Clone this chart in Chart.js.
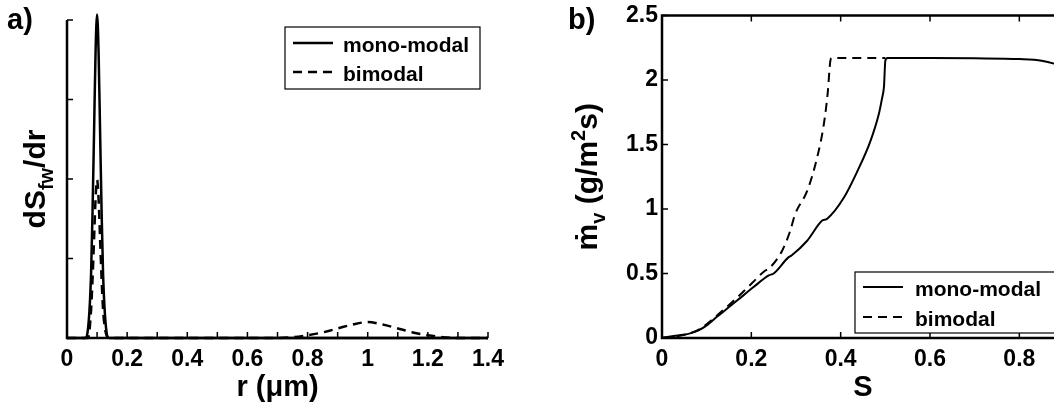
<!DOCTYPE html>
<html>
<head>
<meta charset="utf-8">
<script src="https://cdn.jsdelivr.net/npm/chart.js@4.4.0/dist/chart.umd.min.js"></script>
<style>
  html, body { margin: 0; padding: 0; background: #fff; overflow: hidden; width: 1054px; height: 403px; }
  #wrapA { position: absolute; left: 0; top: 0; width: 540px; height: 403px; }
  #wrapB { position: absolute; left: 540px; top: 0; width: 580px; height: 403px; }
</style>
</head>
<body>
<div id="wrapA"><canvas id="chartA" width="540" height="403"></canvas></div>
<div id="wrapB"><canvas id="chartB" width="580" height="403"></canvas></div>
<script>
// ---- данные панели a) : распределение dS_fw/dr по r (мкм)
const seriesNames = ['mono-modal', 'bimodal'];

const rMono = [0, 0.06, 0.07, 0.08, 0.085, 0.09, 0.095, 0.1, 0.105, 0.11, 0.115, 0.12, 0.13, 0.14, 0.5, 1.0, 1.4];
const dsMono = [0, 0, 0.12, 0.8, 1.6, 2.6, 3.6, 4.07, 3.6, 2.6, 1.6, 0.8, 0.12, 0, 0, 0, 0];

const rBim = [0, 0.07, 0.08, 0.085, 0.09, 0.095, 0.1, 0.105, 0.11, 0.115, 0.12, 0.13, 0.14, 0.5, 0.7, 0.75, 0.8, 0.85, 0.9, 0.95, 1.0, 1.05, 1.1, 1.15, 1.2, 1.25, 1.3, 1.4];
const dsBim = [0, 0, 0.35, 0.75, 1.25, 1.75, 1.99, 1.75, 1.25, 0.75, 0.35, 0.05, 0, 0, 0, 0.01, 0.035, 0.07, 0.12, 0.17, 0.2, 0.17, 0.12, 0.07, 0.035, 0.01, 0, 0];

// ---- данные панели b) : скорость испарения m_v (г/м2с) от S
const sMono = [0, 0.026, 0.048, 0.063, 0.082, 0.101, 0.123, 0.146, 0.168, 0.205, 0.239, 0.25, 0.283, 0.29, 0.325, 0.358, 0.37, 0.407, 0.437, 0.466, 0.485, 0.4925, 0.497, 0.5, 0.505, 0.6, 0.7, 0.8, 0.85, 0.88, 0.9];
const mMono = [0, 0.015, 0.025, 0.036, 0.06, 0.1, 0.164, 0.228, 0.29, 0.395, 0.485, 0.5, 0.625, 0.64, 0.754, 0.908, 0.925, 1.087, 1.29, 1.52, 1.73, 1.856, 1.95, 2.15, 2.17, 2.17, 2.168, 2.162, 2.15, 2.125, 2.1];

const sBim = [0, 0.05, 0.085, 0.125, 0.17, 0.2, 0.23, 0.24, 0.269, 0.287, 0.298, 0.325, 0.347, 0.362, 0.371, 0.377, 0.38, 0.45, 0.5];
const mBim = [0, 0.025, 0.07, 0.18, 0.32, 0.42, 0.52, 0.54, 0.677, 0.83, 0.96, 1.14, 1.395, 1.65, 1.9, 2.15, 2.17, 2.17, 2.17];

// шаги засечек
const rTicksStep = 0.1;
const sTicksStep = 0.2;
const mTicksStep = 0.5;

const FONT = "'Liberation Sans', Arial, Helvetica, sans-serif";
Chart.defaults.font.family = FONT;
Chart.defaults.font.weight = 'bold';
Chart.defaults.color = '#000';

function pts(xs, ys) {
	return xs.map((x, i) => ({x: x, y: ys[i]}));
}

// текст с индексами: parts = [{t, s, dy}]
function drawRich(ctx, parts, x, y) {
	let w = 0;
	parts.forEach(p => {
		ctx.font = 'bold ' + p.s + 'px ' + FONT;
		p.w = ctx.measureText(p.t).width;
		w += p.w;
	});
	let cx = x - w / 2;
	ctx.textBaseline = 'alphabetic';
	ctx.textAlign = 'left';
	parts.forEach(p => {
		ctx.font = 'bold ' + p.s + 'px ' + FONT;
		ctx.fillText(p.t, cx, y + (p.dy || 0));
		cx += p.w;
	});
}

// оси, засечки внутрь, подписи осей, легенда
const framePlugin = {
	id: 'frame',
	afterDatasetsDraw(chart, args, o) {
		const ctx = chart.ctx;
		const a = chart.chartArea;
		const xs = chart.scales.x, ys = chart.scales.y;
		ctx.save();
		ctx.strokeStyle = '#000';
		ctx.fillStyle = '#000';
		ctx.lineWidth = 2.5;
		ctx.beginPath();
		if (o.box) {
			ctx.rect(a.left, a.top, a.right - a.left, a.bottom - a.top);
		} else {
			ctx.moveTo(a.left, a.top);
			ctx.lineTo(a.left, a.bottom);
			ctx.lineTo(a.right, a.bottom);
		}
		ctx.stroke();

		// засечки
		ctx.lineWidth = 1.5;
		const tl = 6;
		ctx.beginPath();
		xs.ticks.forEach(t => {
			const px = xs.getPixelForValue(t.value);
			if (Math.abs(px - a.left) < 1) return;
			ctx.moveTo(px, a.bottom);
			ctx.lineTo(px, a.bottom - tl);
			if (o.box) {
				ctx.moveTo(px, a.top);
				ctx.lineTo(px, a.top + tl);
			}
		});
		ys.ticks.forEach(t => {
			const py = ys.getPixelForValue(t.value);
			if (Math.abs(py - a.bottom) < 1) return;
			ctx.moveTo(a.left, py);
			ctx.lineTo(a.left + tl, py);
		});
		ctx.stroke();

		// буква панели
		ctx.font = 'bold 29px ' + FONT;
		ctx.textAlign = 'left';
		ctx.textBaseline = 'alphabetic';
		ctx.fillText(o.letter, o.letterX, 29);

		// подпись оси x
		drawRich(ctx, o.xTitle, (a.left + a.right) / 2, 396);

		// подпись оси y (повернута)
		ctx.save();
		ctx.translate(o.yTitleX, (a.top + a.bottom) / 2);
		ctx.rotate(-Math.PI / 2);
		drawRich(ctx, o.yTitle, 0, 0);
		ctx.restore();

		// легенда
		const L = o.legend;
		const bx = a.right - L.right - L.w;
		const by = L.bottom != null ? a.bottom - L.bottom - L.h : a.top + L.top;
		ctx.fillStyle = '#fff';
		ctx.fillRect(bx, by, L.w, L.h);
		ctx.lineWidth = 1.2;
		ctx.strokeStyle = '#000';
		ctx.strokeRect(bx, by, L.w, L.h);
		ctx.fillStyle = '#000';
		chart.data.datasets.forEach((ds, i) => {
			const ly = by + L.row0 + i * L.rowGap;
			ctx.beginPath();
			ctx.lineWidth = ds.borderWidth;
			ctx.setLineDash(ds.borderDash || []);
			ctx.moveTo(bx + 8, ly);
			ctx.lineTo(bx + 48, ly);
			ctx.stroke();
			ctx.setLineDash([]);
			ctx.font = 'bold 21px ' + FONT;
			ctx.textAlign = 'left';
			ctx.textBaseline = 'alphabetic';
			ctx.fillText(ds.label, bx + L.textX, ly + 9);
		});
		ctx.restore();
	}
};

function fmt(v) {
	return String(Math.round(v * 10) / 10);
}

// ---- панель a
new Chart(document.getElementById('chartA'), {
	type: 'line',
	data: {
		datasets: [{
			label: seriesNames[0],
			data: pts(rMono, dsMono),
			borderColor: '#000',
			borderWidth: 2.5,
			pointRadius: 0,
			cubicInterpolationMode: 'monotone',
			clip: false
		}, {
			label: seriesNames[1],
			data: pts(rBim, dsBim),
			borderColor: '#000',
			borderWidth: 2.5,
			borderDash: [9, 6],
			pointRadius: 0,
			cubicInterpolationMode: 'monotone',
			clip: false
		}]
	},
	options: {
		responsive: false,
		animation: false,
		devicePixelRatio: 1,
		layout: {padding: {left: 0, top: 20, right: 52, bottom: 0}},
		plugins: {
			legend: {display: false},
			tooltip: {enabled: false},
			frame: {
				box: false,
				letter: 'a)',
				letterX: 7,
				xTitle: [{t: 'r (\u03bcm)', s: 29}],
				yTitle: [{t: 'dS', s: 30}, {t: 'fw', s: 20, dy: 8}, {t: '/dr', s: 30}],
				yTitleX: 45,
				legend: {right: 8, top: 7, w: 195, h: 62, row0: 16, rowGap: 29, textX: 58}
			}
		},
		scales: {
			x: {
				type: 'linear',
				min: 0, max: 1.4,
				grid: {display: false, drawTicks: false},
				border: {display: false},
				ticks: {
					stepSize: rTicksStep,
					autoSkip: false,
					maxRotation: 0,
					padding: 8,
					font: {size: 23, weight: 'bold'},
					callback: (v) => (Math.round(v * 10) % 2 ? '' : fmt(v))
				},
				afterFit: (s) => { s.height = 65; }
			},
			y: {
				min: 0, max: 4,
				grid: {display: false, drawTicks: false},
				border: {display: false},
				ticks: {stepSize: 1, display: false},
				afterFit: (s) => { s.width = 67; }
			}
		}
	},
	plugins: [framePlugin]
});

// ---- панель b
new Chart(document.getElementById('chartB'), {
	type: 'line',
	data: {
		datasets: [{
			label: seriesNames[0],
			data: pts(sMono, mMono),
			borderColor: '#000',
			borderWidth: 2,
			pointRadius: 0,
			cubicInterpolationMode: 'monotone'
		}, {
			label: seriesNames[1],
			data: pts(sBim, mBim),
			borderColor: '#000',
			borderWidth: 2,
			borderDash: [9, 6],
			pointRadius: 0,
			cubicInterpolationMode: 'monotone'
		}]
	},
	options: {
		responsive: false,
		animation: false,
		devicePixelRatio: 1,
		layout: {padding: {left: 0, top: 13, right: 56, bottom: 0}},
		plugins: {
			legend: {display: false},
			tooltip: {enabled: false},
			frame: {
				box: true,
				letter: 'b)',
				letterX: 28,
				xTitle: [{t: 'S', s: 29}],
				yTitle: [{t: '\u1e41', s: 30}, {t: 'v', s: 20, dy: 8}, {t: ' (g/m', s: 30}, {t: '2', s: 20, dy: -12}, {t: 's)', s: 30}],
				yTitleX: 57,
				legend: {right: 8, bottom: 5, w: 201, h: 61, row0: 15, rowGap: 30, textX: 60}
			}
		},
		scales: {
			x: {
				type: 'linear',
				min: 0, max: 0.9,
				grid: {display: false, drawTicks: false},
				border: {display: false},
				ticks: {
					stepSize: sTicksStep,
					includeBounds: false,
					autoSkip: false,
					maxRotation: 0,
					padding: 8,
					font: {size: 23, weight: 'bold'},
					callback: (v) => fmt(v)
				},
				afterFit: (s) => { s.height = 65; }
			},
			y: {
				min: 0, max: 2.5,
				grid: {display: false, drawTicks: false},
				border: {display: false},
				ticks: {
					stepSize: mTicksStep,
					padding: 4,
					font: {size: 23, weight: 'bold', lineHeight: 1},
					callback: (v) => fmt(v)
				},
				afterFit: (s) => { s.width = 122; }
			}
		}
	},
	plugins: [framePlugin]
});
</script>
</body>
</html>
